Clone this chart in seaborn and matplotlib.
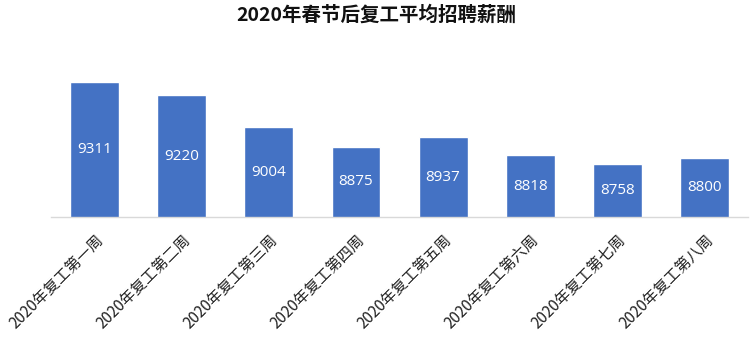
import matplotlib
matplotlib.use("Agg")
import matplotlib.pyplot as plt
import seaborn as sns
import pandas as pd

categories = ["2020年复工第一周", "2020年复工第二周", "2020年复工第三周", "2020年复工第四周",
              "2020年复工第五周", "2020年复工第六周", "2020年复工第七周", "2020年复工第八周"]
salaries = [9311, 9220, 9004, 8875, 8937, 8818, 8758, 8800]
title = "2020年春节后复工平均招聘薪酬"

sns.set_theme(style="white")
plt.rcParams['font.family'] = ['Noto Sans CJK SC', 'DejaVu Sans']

df = pd.DataFrame({"week": categories, "salary": salaries})

fig = plt.figure(figsize=(7.52, 3.54), dpi=100)
ax = fig.add_axes([0.0678, 0.386, 0.927, 0.4626])
sns.barplot(data=df, x="week", y="salary", color="#4472C4", saturation=1, width=0.56, ax=ax)

ax.set_ylim(8400, 9500)
ax.set_xlim(-0.5, len(categories) - 0.5)
for c in ax.containers:
    ax.bar_label(c, labels=[str(v) for v in salaries], label_type="center",
                 color="white", fontsize=11, family=["Open Sans", "DejaVu Sans"])

for s in ["top", "right", "left"]:
    ax.spines[s].set_visible(False)
ax.spines["bottom"].set_color("#d9d9d9")
ax.spines["bottom"].set_linewidth(1)
ax.set_yticks([])
ax.set_xlabel("")
ax.set_ylabel("")
ax.tick_params(axis="x", length=0, pad=10)
plt.setp(ax.get_xticklabels(), rotation=45, ha="right", rotation_mode="anchor",
         fontsize=11, color="#222222")

fig.suptitle(title, x=0.5, y=0.985, fontsize=14, fontweight="bold", color="#111111")

fig.savefig("out.png", dpi=100)
